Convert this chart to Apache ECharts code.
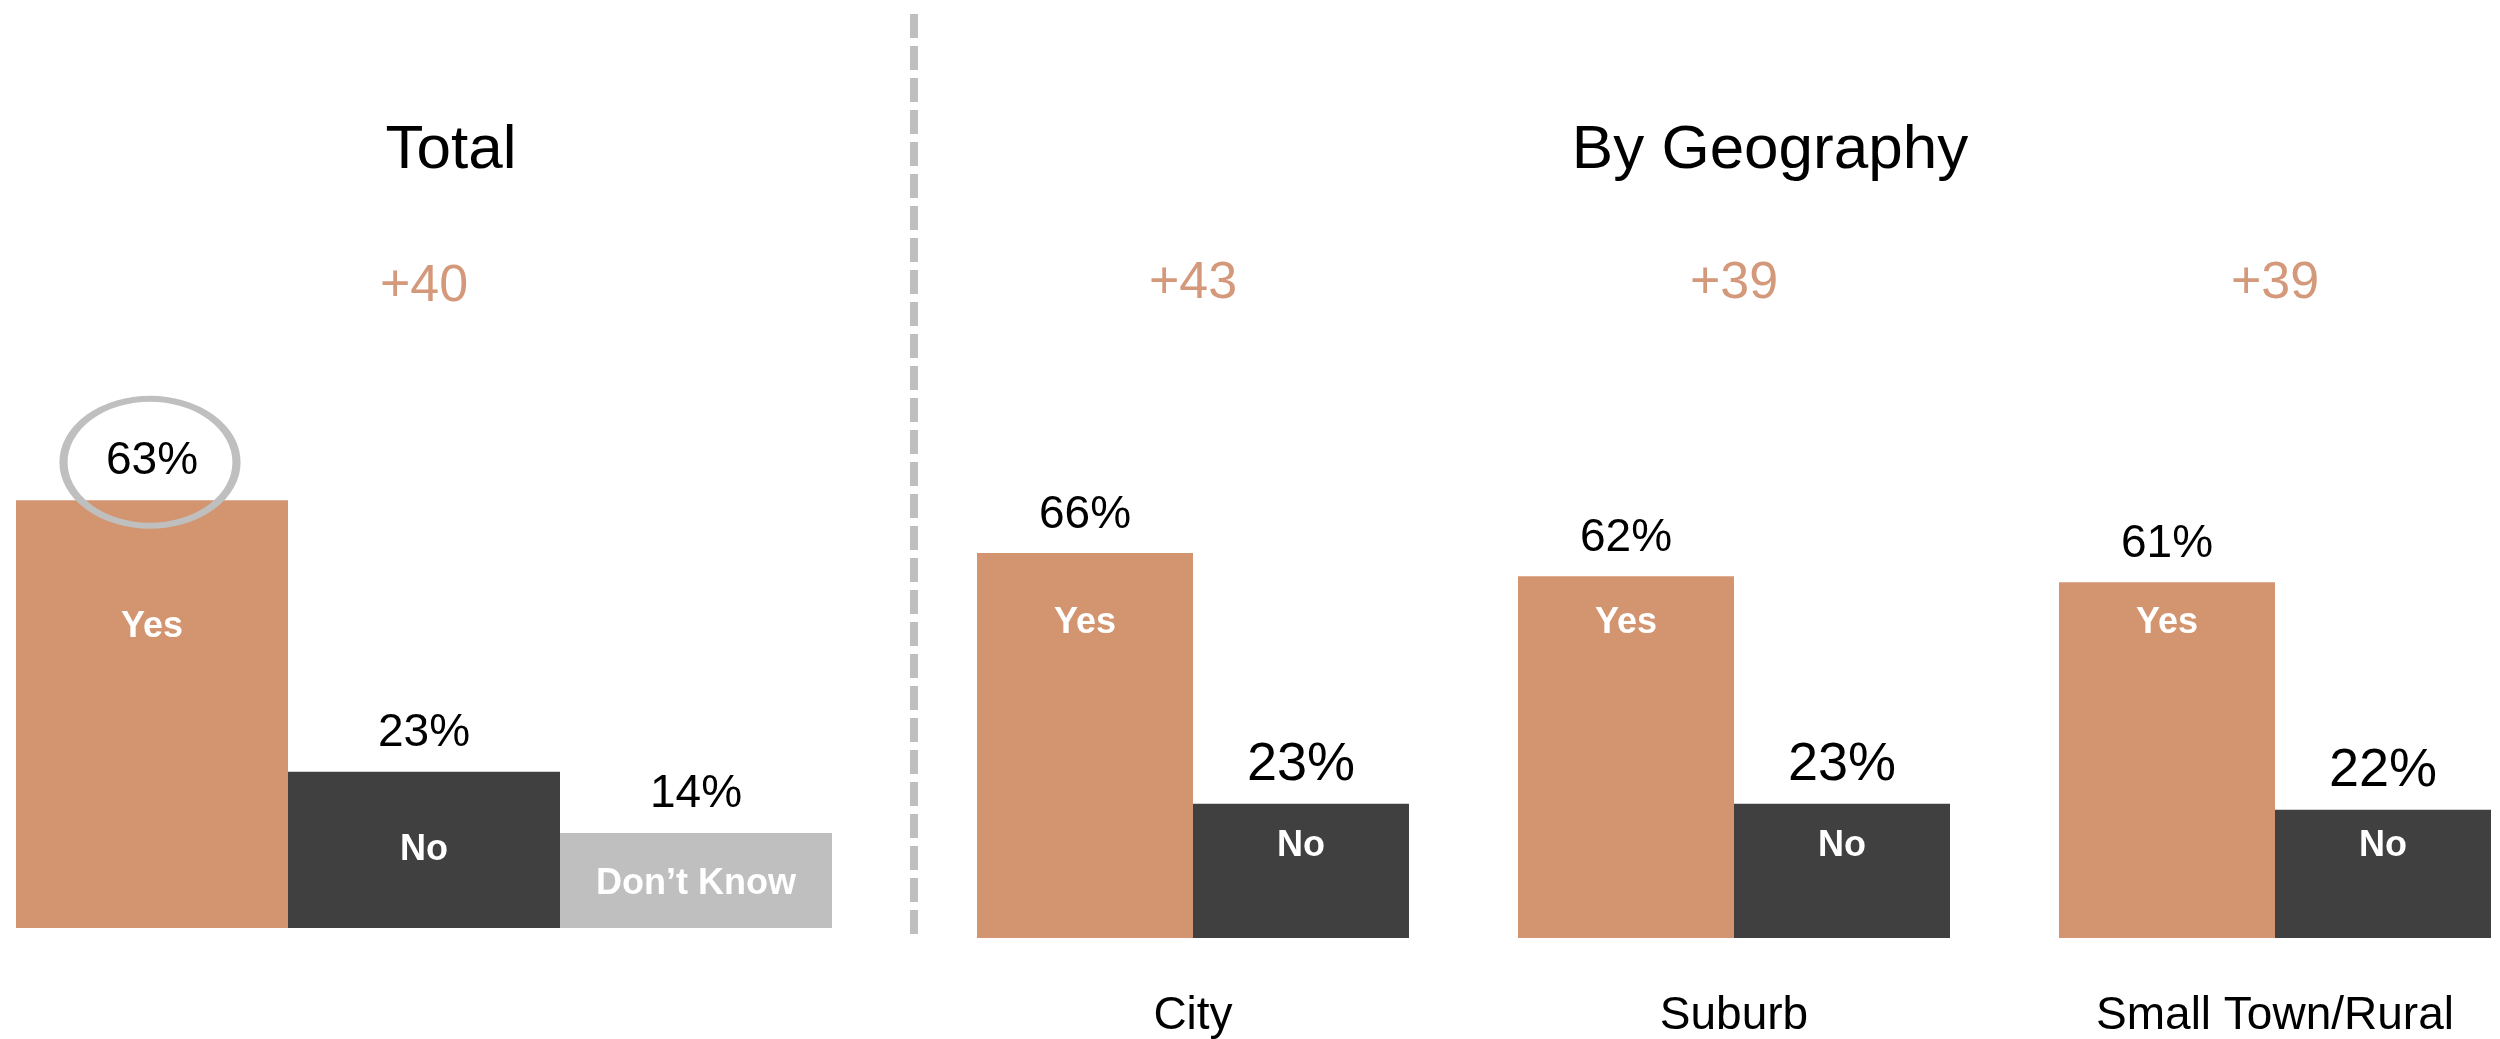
<!DOCTYPE html>
<html>
<head>
<meta charset="utf-8">
<script src="https://cdn.jsdelivr.net/npm/echarts@6/dist/echarts.min.js"></script>
<style>
  html, body { margin: 0; padding: 0; background: #ffffff; }
  #chart { width: 2500px; height: 1039px; }
</style>
</head>
<body>
<div id="chart"></div>
<script>
// total panel
const totalCats = ['Yes', 'No', 'Don’t Know'];
const totalVals = [63, 23, 14];
const totalNet = [40];

// by geography panel
const geoCats = ['City', 'Suburb', 'Small Town/Rural'];
const geoYes = [66, 62, 61];
const geoNo = [23, 23, 22];
const geoNet = [43, 39, 39];

const FONT = '"Liberation Sans", Arial, sans-serif';
const YES_COLOR = '#D39570';
const NO_COLOR = '#404040';
const DK_COLOR = '#BFBFBF';
const NET_COLOR = '#C98059';
const totalColors = [YES_COLOR, NO_COLOR, DK_COLOR];

// where the white names sit above the baseline (px), per bar
const totalNameDist = [283, 60, 26];
const geoYesNameDist = 297;
const geoNoNameDist = 74;

let chart = echarts.init(document.getElementById('chart'));

const nameLabel = (dist) => ({
    show: true,
    position: 'insideBottom',
    distance: dist,
    color: '#ffffff',
    fontFamily: FONT,
    fontWeight: 'bold',
    fontSize: 36
});

chart.setOption({
    backgroundColor: '#ffffff',
    animation: false,
    title: [
        {
            text: 'Total', left: 451, top: 120, textAlign: 'center', padding: 0,
            textStyle: { fontFamily: FONT, fontSize: 62, fontWeight: 'normal', color: '#000' }
        },
        {
            text: 'By Geography', left: 1770, top: 120, textAlign: 'center', padding: 0,
            textStyle: { fontFamily: FONT, fontSize: 62, fontWeight: 'normal', color: '#000' }
        }
    ],
    grid: [
        { left: 16, width: 816, top: 249, height: 679 },
        // ticks sit on the group centres (boundaryGap off), band = 541px
        { left: 1193, width: 1082, top: 238, height: 708 }
    ],
    xAxis: [
        { type: 'category', gridIndex: 0, data: totalCats, show: false },
        { type: 'category', gridIndex: 0, data: totalCats, show: false },
        {
            type: 'category', gridIndex: 1, data: geoCats, boundaryGap: false,
            axisLine: { show: false }, axisTick: { show: false }, splitLine: { show: false },
            axisLabel: { margin: 55, color: '#000', fontFamily: FONT, fontSize: 46 }
        },
        { type: 'category', gridIndex: 1, data: geoCats, boundaryGap: false, show: false }
    ],
    yAxis: [
        { type: 'value', gridIndex: 0, min: 0, max: 100, show: false },
        { type: 'value', gridIndex: 1, min: 0, max: 120, show: false }
    ],
    graphic: [
        {
            type: 'line',
            shape: { x1: 914, y1: 14, x2: 914, y2: 934 },
            style: { stroke: DK_COLOR, lineWidth: 8, lineDash: [24, 8] }
        }
    ],
    series: [
        {
            name: 'Total',
            type: 'bar',
            xAxisIndex: 0, yAxisIndex: 0,
            barCategoryGap: '0%',
            data: totalVals.map((v, i) => ({ value: v, itemStyle: { color: totalColors[i] } })),
            label: {
                show: true, position: 'top', distance: 16, formatter: '{c}%',
                color: '#000', fontFamily: FONT, fontSize: 46
            },
            markPoint: {
                silent: true,
                symbol: 'path://M0,50A50,50,0,1,1,100,50A50,50,0,1,1,0,50Z',
                symbolSize: [173, 127],
                symbolOffset: [-2, -38],
                itemStyle: { color: 'rgba(0,0,0,0)', borderColor: DK_COLOR, borderWidth: 7 },
                label: { show: false },
                data: [{ coord: [0, totalVals[0]] }]
            }
        },
        {
            name: 'Total names',
            type: 'bar',
            silent: true,
            xAxisIndex: 1, yAxisIndex: 0,
            barCategoryGap: '0%',
            itemStyle: { color: 'rgba(0,0,0,0)' },
            data: totalVals.map((v, i) => ({ value: v, label: nameLabel(totalNameDist[i]) })),
            label: { show: true, formatter: '{b}' }
        },
        {
            name: 'Yes',
            type: 'bar',
            clip: false,
            xAxisIndex: 2, yAxisIndex: 1,
            barWidth: 216, barGap: '0%',
            itemStyle: { color: YES_COLOR },
            data: geoYes,
            label: {
                show: true, position: 'top', distance: 15, formatter: '{c}%',
                color: '#000', fontFamily: FONT, fontSize: 46
            }
        },
        {
            name: 'No',
            type: 'bar',
            clip: false,
            xAxisIndex: 2, yAxisIndex: 1,
            barWidth: 216, barGap: '0%',
            itemStyle: { color: NO_COLOR },
            data: geoNo,
            label: {
                show: true, position: 'top', distance: 12, formatter: '{c}%',
                color: '#000', fontFamily: FONT, fontSize: 54
            }
        },
        {
            name: 'Yes names',
            type: 'bar',
            silent: true,
            clip: false,
            xAxisIndex: 3, yAxisIndex: 1,
            barWidth: 216, barGap: '0%',
            itemStyle: { color: 'rgba(0,0,0,0)' },
            data: geoYes,
            label: Object.assign(nameLabel(geoYesNameDist), { formatter: 'Yes' })
        },
        {
            name: 'No names',
            type: 'bar',
            silent: true,
            clip: false,
            xAxisIndex: 3, yAxisIndex: 1,
            barWidth: 216, barGap: '0%',
            itemStyle: { color: 'rgba(0,0,0,0)' },
            data: geoNo,
            label: Object.assign(nameLabel(geoNoNameDist), { formatter: 'No' })
        },
        {
            name: 'Net total',
            type: 'scatter',
            silent: true,
            xAxisIndex: 0, yAxisIndex: 0,
            symbolSize: 0,
            data: totalNet.map(n => [1, 94.4, n]),
            label: {
                show: true, position: 'inside',
                formatter: p => '+' + p.data[2],
                color: NET_COLOR, fontFamily: FONT, fontSize: 52
            }
        },
        {
            name: 'Net geo',
            type: 'scatter',
            silent: true,
            clip: false,
            xAxisIndex: 2, yAxisIndex: 1,
            symbolSize: 0,
            data: geoNet.map((n, i) => [i, 112.2, n]),
            label: {
                show: true, position: 'inside',
                formatter: p => '+' + p.data[2],
                color: NET_COLOR, fontFamily: FONT, fontSize: 52
            }
        }
    ]
});
</script>
</body>
</html>
